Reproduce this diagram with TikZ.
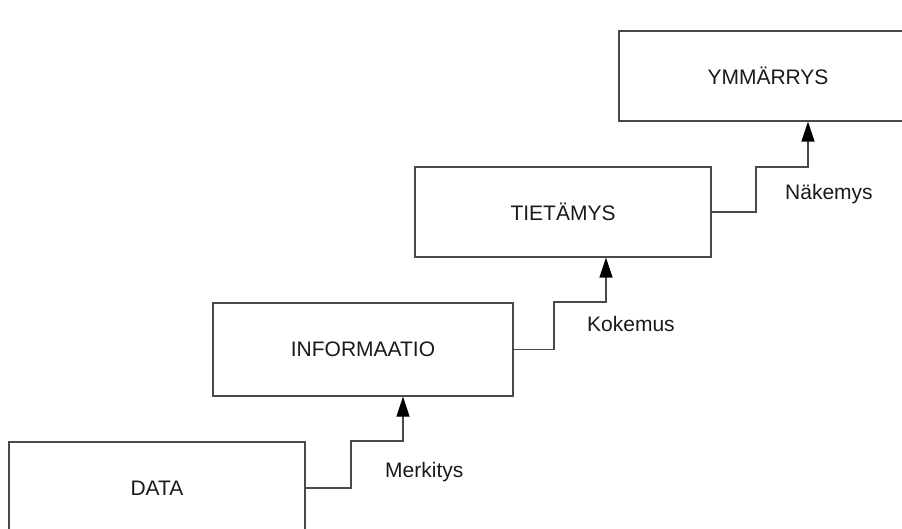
\documentclass[tikz,border=0pt]{standalone}
\usepackage{fontspec}
\setmainfont{Liberation Sans}
\usetikzlibrary{arrows.meta}
\definecolor{ink}{HTML}{1A1A1A}
\definecolor{linec}{HTML}{4A4A4A}
\tikzset{
  box/.style={draw=linec, line width=1.3pt, fill=white, text=ink, font=\fontsize{21}{24}\selectfont, minimum width=#1, inner sep=0pt},
  conn/.style={draw=linec, line width=1.3pt, -{Triangle[length=20pt,width=13pt,fill=black,color=black]}},
  lbl/.style={text=ink, font=\fontsize{21}{24}\selectfont, anchor=base west, inner sep=0pt}
}
\begin{document}
\begin{tikzpicture}[x=1pt,y=-1pt]
\useasboundingbox (0,0) rectangle (902,529);
\clip (0,0) rectangle (902,529);
\node[box=296pt, minimum height=92pt] (data) at (157,488) {DATA};
\node[box=300pt, minimum height=93pt] (info) at (363,349.5) {INFORMAATIO};
\node[box=296pt, minimum height=90pt] (tieto) at (563,212) {TIETÄMYS};
\node[box=298pt, minimum height=90pt] (ymm) at (768,76) {YMMÄRRYS};
\coordinate (a1) at (351,441);
\coordinate (a2) at (403,0);
\coordinate (b1) at (554,302);
\coordinate (b2) at (606,0);
\coordinate (c1) at (756,167);
\coordinate (c2) at (808,0);
\draw[conn] (data.east) -| (a1) -| (a2 |- info.south);
\draw[conn] (info.east) -| (b1) -| (b2 |- tieto.south);
\draw[conn] (tieto.east) -| (c1) -| (c2 |- ymm.south);
\node[lbl] (l1) at (385,477) {Merkitys};
\node[lbl] (l2) at (587,331) {Kokemus};
\node[lbl] (l3) at (785,200) {Näkemys};
\end{tikzpicture}
\end{document}
